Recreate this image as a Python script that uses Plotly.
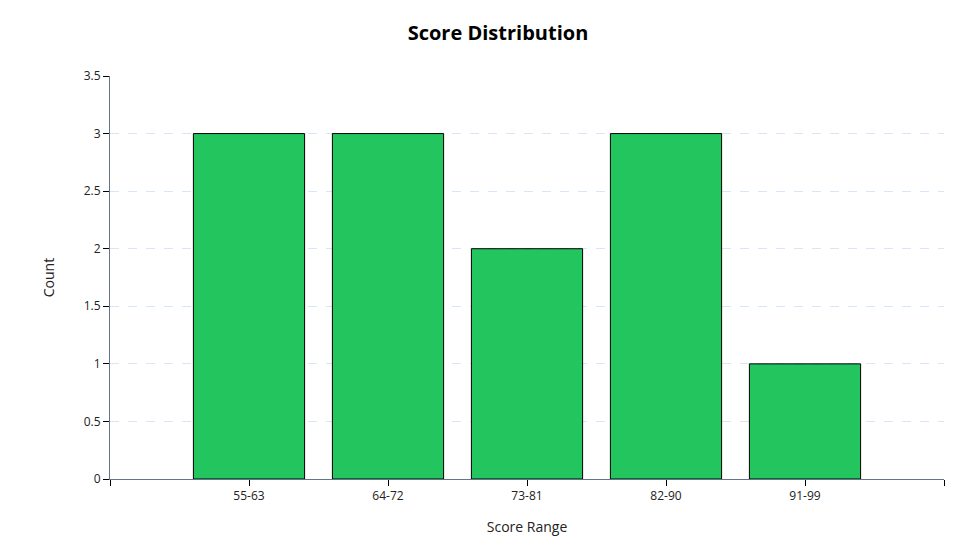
import plotly.graph_objects as go

categories = ["55-63", "64-72", "73-81", "82-90", "91-99"]
counts = [3, 3, 2, 3, 1]
y_ticks = [0, 0.5, 1, 1.5, 2, 2.5, 3, 3.5]

positions = list(range(len(categories)))

fig = go.Figure(go.Bar(
    x=positions,
    y=counts,
    width=0.8,
    marker=dict(color="#22c55e", line=dict(color="#000000", width=1)),
    hoverinfo="x+y",
))

font_family = "Open Sans, Noto Sans, sans-serif"

fig.update_layout(
    width=980, height=560,
    margin=dict(l=102, r=44, t=68, b=89),
    paper_bgcolor="white", plot_bgcolor="white",
    title=dict(text="<b>Score Distribution</b>", x=0.5, xanchor="center",
               y=1 - 25 / 560, yanchor="middle",
               font=dict(family=font_family, size=20, color="#000000")),
    font=dict(family=font_family, size=12, color="#222222"),
    showlegend=False,
    bargap=0.2,
)

fig.update_xaxes(
    range=[-1, len(categories)],
    tickmode="array",
    tickvals=[-1] + positions + [len(categories)],
    ticktext=[""] + categories + [""],
    ticks="outside", ticklen=6, tickcolor="#000000", tickwidth=1,
    showline=True, linecolor="#64748b", linewidth=1,
    showgrid=False, zeroline=False,
    tickfont=dict(size=12, color="#222222"),
    title=dict(text="Score Range", standoff=18, font=dict(size=14, color="#222222")),
)

fig.update_yaxes(
    range=[0, 3.5],
    tickmode="array", tickvals=y_ticks,
    ticktext=[f"{v:g}" for v in y_ticks],
    ticks="outside", ticklen=6, tickcolor="#000000", tickwidth=1,
    showline=True, linecolor="#64748b", linewidth=1,
    showgrid=True, gridcolor="#d6e6fb", griddash="dash", gridwidth=1,
    zeroline=False,
    tickfont=dict(size=12, color="#222222"),
    title=dict(text="Count", standoff=25, font=dict(size=14, color="#222222")),
)

fig.write_html("out.html")
